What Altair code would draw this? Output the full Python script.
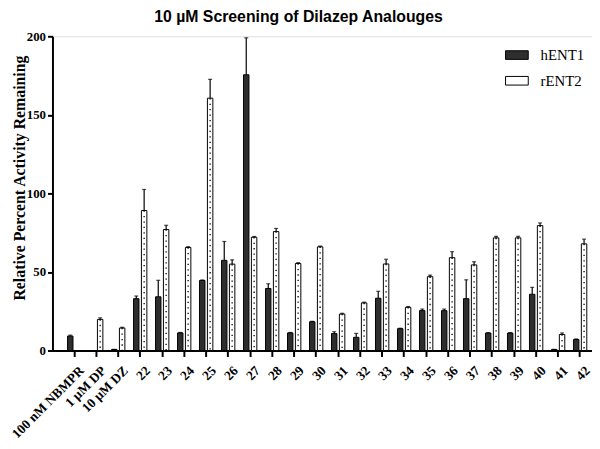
import altair as alt
import pandas as pd

cats = ["100 nM NBMPR", "1 µM DP", "10 µM DZ"] + [str(i) for i in range(22, 43)]
series_names = ["hENT1", "rENT2"]

hent1 = [9.2, None, 0.7, 33.0, 34.2, 11.2, 44.6, 57.4, 175.5, 39.5, 11.2, 18.3, 10.8, 8.4,
         33.3, 13.9, 25.4, 25.4, 33.0, 11.1, 11.1, 35.8, 0.7, 7.0]
hent1_err = [0.6, None, 0.0, 1.7, 10.5, 0.3, 0.3, 12.0, 23.5, 3.0, 0.3, 0.3, 1.2, 2.5,
             4.4, 0.3, 1.0, 1.0, 12.0, 0.3, 0.3, 4.4, 0.0, 0.4]
rent2 = [None, 19.8, 14.3, 89.1, 77.0, 65.6, 160.6, 55.0, 72.1, 75.7, 55.4, 66.0, 23.2, 30.3,
         55.1, 27.5, 47.0, 59.1, 54.5, 71.7, 71.7, 79.5, 10.2, 67.9]
rent2_err = [None, 1.0, 0.5, 13.4, 2.7, 0.5, 12.0, 2.7, 0.5, 2.0, 0.5, 0.5, 0.5, 0.5,
             3.0, 0.5, 1.0, 3.8, 2.0, 1.0, 1.0, 1.7, 1.0, 3.0]

rows = []
for c, v, e in zip(cats, hent1, hent1_err):
    if v is not None:
        rows.append({"cat": c, "series": "hENT1", "value": v, "top": v + e, "zero": 0.0})
for c, v, e in zip(cats, rent2, rent2_err):
    if v is not None:
        rows.append({"cat": c, "series": "rENT2", "value": v, "top": v + e, "zero": 0.0})
df = pd.DataFrame(rows)

W, H = 546, 318
serif = "Liberation Serif"

x_enc = alt.X("cat:N", sort=cats,
              scale=alt.Scale(paddingInner=0, paddingOuter=0.264, align=0.925),
              axis=alt.Axis(title=None, labelAngle=-45, labelFont=serif, labelFontSize=13.5,
                            labelFontWeight="bold", labelColor="black", labelPadding=7,
                            labelOffset=3,
                            domainColor="black", domainWidth=2, tickColor="black",
                            tickWidth=2, tickSize=6))
xo_enc = alt.XOffset("series:N", sort=series_names,
                     scale=alt.Scale(paddingInner=0.31, paddingOuter=0.55))
y_scale = alt.Scale(domain=[0, 200], nice=False)
y_axis = alt.Axis(title="Relative Percent Activity Remaining", values=[0, 50, 100, 150, 200],
                  labelFont=serif, labelFontSize=13, labelFontWeight="bold", labelColor="black",
                  labelPadding=2, domainColor="black", domainWidth=2, tickColor="black",
                  tickWidth=2, tickSize=5, grid=False, titleFont=serif, titleFontSize=16,
                  titleFontWeight="bold", titleColor="black", titleX=-25, titleY=143,
                  titleAngle=270)

base = alt.Chart(df).encode(x=x_enc, xOffset=xo_enc)

bars = base.mark_bar(stroke="black", strokeWidth=1).encode(
    y=alt.Y("value:Q", scale=y_scale, axis=y_axis),
    color=alt.Color("series:N", sort=series_names,
                    scale=alt.Scale(domain=series_names, range=["#2e2e2e", "#ffffff"]),
                    legend=alt.Legend(title=None, orient="none", legendX=458, legendY=7,
                                      labelFont=serif, labelFontSize=15, labelColor="black",
                                      symbolType="M-1,-0.38H1V0.38H-1Z", symbolSize=529,
                                      symbolStrokeColor="black", symbolStrokeWidth=1,
                                      rowPadding=6, labelOffset=12)),
)

dots = base.transform_filter(alt.datum.series == "rENT2").mark_rule(
    color="black", strokeWidth=1.3, strokeDash=[1.3, 4.2]).encode(
    y=alt.Y("value:Q", scale=y_scale), y2="zero:Q")

err = base.mark_rule(color="black", strokeWidth=1.2).encode(
    y=alt.Y("value:Q", scale=y_scale), y2="top:Q")

caps = base.mark_tick(color="black", thickness=1.2, size=4, orient="horizontal").encode(
    y=alt.Y("top:Q", scale=y_scale))

chart = alt.layer(bars, dots, err, caps).properties(
    width=W, height=H,
    title=alt.TitleParams("10 µM Screening of Dilazep Analouges", font="Liberation Sans",
                          fontSize=16, fontWeight="bold", color="black", anchor="middle",
                          offset=5, dx=-24),
    autosize=alt.AutoSizeParams(type="none"),
    padding={"left": 45, "top": 26, "right": 0, "bottom": 95},
).configure_view(stroke=None).configure(background="white")

chart.save("out.html", embed_options={"renderer": "svg", "actions": False})
